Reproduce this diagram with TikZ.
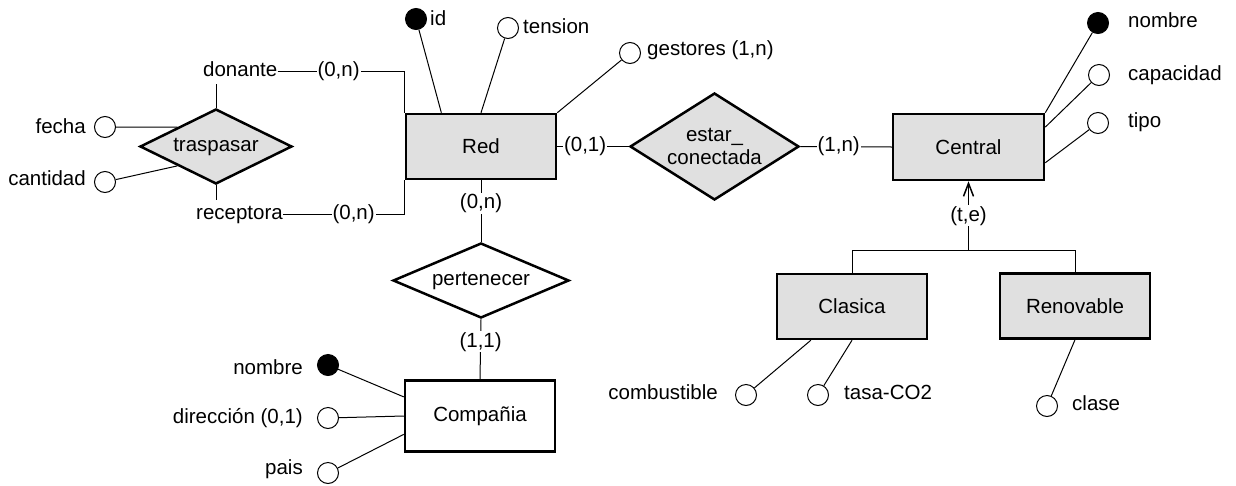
\documentclass[tikz,border=0pt]{standalone}
\usepackage{fontspec}
\setmainfont{Liberation Sans}
\usetikzlibrary{shapes.geometric,arrows.meta,calc}
\definecolor{boxgrey}{RGB}{224,224,224}

\begin{document}
\begin{tikzpicture}[x=1pt,y=-1pt,
  every node/.style={font=\fontsize{20.5}{23}\selectfont},
  txt/.style={inner sep=0pt, text height=14.8pt, text depth=4.3pt},
  entity/.style={draw, line width=2.5pt, minimum width=150pt, minimum height=65pt, inner sep=0pt},
  shaded/.style={fill=boxgrey},
  rel/.style={diamond, draw, line width=2.5pt, inner sep=0pt},
  attr/.style={circle, draw, line width=1pt, fill=white, minimum size=21pt, inner sep=0pt},
  keyattr/.style={attr, fill=black},
  link/.style={line width=1pt},
  card/.style={txt, fill=white, inner sep=1pt},
]
\useasboundingbox (0,0) rectangle (1236,485);

% entities
\node[entity, shaded] (red) at (481,146.5) {Red};
\node[entity, shaded, minimum width=151pt, minimum height=66pt] (central) at (968.5,147) {Central};
\node[entity, minimum height=71pt] (comp) at (480,416) {Compañia};
\node[entity, shaded] (clasica) at (852,306.5) {Clasica};
\node[entity, shaded] (renov) at (1075,306) {Renovable};

% relationships
\node[rel, shaded, aspect=2, minimum width=152pt, minimum height=75pt] (trasp) at (216,146.5) {traspasar};
\node[rel, shaded, aspect=1.58, minimum width=169pt, minimum height=107pt, align=center] (estar) at (714.5,146.5) {estar\_\\conectada};
\node[rel, fill=white, aspect=2.35, minimum width=176pt, minimum height=75pt] (pert) at (481,280.5) {pertenecer};

% role names of traspasar
\node[txt, anchor=west] (donante) at (203,71) {donante};
\node[txt, anchor=west] (receptora) at (196,214) {receptora};

% attributes of traspasar
\node[attr] (fechaC) at (105,127) {};
\node[txt, anchor=east] (fechaT) at (86,128) {fecha};
\node[attr] (cantC) at (105,182) {};
\node[txt, anchor=east] (cantT) at (86,180) {cantidad};

% attributes of Red
\node[keyattr] (idC) at (416,19) {};
\node[txt, anchor=west] (idT) at (430,20) {id};
\node[attr] (tensionC) at (508,28) {};
\node[txt, anchor=west] (tensionT) at (523,28) {tension};
\node[attr] (gestC) at (630,53) {};
\node[txt, anchor=west] (gestT) at (647,50) {gestores (1,n)};

% attributes of Central
\node[keyattr] (nombreC) at (1098,23) {};
\node[txt, anchor=west] (nombreT) at (1128,22) {nombre};
\node[attr] (capC) at (1099,75) {};
\node[txt, anchor=west] (capT) at (1128,75) {capacidad};
\node[attr] (tipoC) at (1098,123) {};
\node[txt, anchor=west] (tipoT) at (1128,122) {tipo};

% attributes of Compañia
\node[keyattr] (nomC2) at (328,365) {};
\node[txt, anchor=east] (nomT2) at (303,369) {nombre};
\node[attr] (dirC) at (328,418) {};
\node[txt, anchor=east] (dirT) at (303,418) {dirección (0,1)};
\node[attr] (paisC) at (328,473) {};
\node[txt, anchor=east] (paisT) at (303,469) {pais};

% attributes of the subclasses
\node[attr] (combC) at (746,395) {};
\node[txt, anchor=east] (combT) at (718,394) {combustible};
\node[attr] (tasaC) at (818,395) {};
\node[txt, anchor=west] (tasaT) at (844,394) {tasa-CO2};
\node[attr] (claseC) at (1047,406) {};
\node[txt, anchor=west] (claseT) at (1072,405) {clase};

% traspasar
\draw[link] (fechaC) -- ($(trasp.west)!0.5!(trasp.north)$);
\draw[link] (cantC) -- ($(trasp.west)!0.5!(trasp.south)$);
\draw[link, shorten >=3pt] (trasp.north) -- (trasp.north |- donante.south);
\draw[link, shorten >=4pt] (trasp.south) -- (trasp.south |- receptora.north);
\draw[link] (donante.east) -- node[card, pos=0.48] (cd) {(0,n)} (donante.east -| red.north west) -- (red.north west);
\draw[link] (receptora.east) -- node[card, pos=0.58] (cr) {(0,n)} (receptora.east -| red.south west) -- (red.south west);

% Red
\draw[link] (idC) -- ($(red.north west)!0.24!(red.north east)$);
\draw[link] (tensionC) -- (red.north);
\draw[link] (gestC) -- (red.north east);
\draw[link] (red.east) -- node[card, pos=0.39] (c01) {(0,1)} (estar.west);
\draw[link] (estar.east) -- node[card, pos=0.42] (c1n) {(1,n)} (central.west);
\draw[link] (red.south) -- node[card, pos=0.375] (c0n) {(0,n)} (pert.north);
\draw[link] (pert.south) -- node[card, pos=0.375] (c11) {(1,1)} (comp.north);

% Central
\draw[link] (nombreC) -- (central.north east);
\draw[link] (capC) -- ($(central.north east)!0.21!(central.south east)$);
\draw[link] (tipoC) -- ($(central.north east)!0.73!(central.south east)$);

% Compañia
\draw[link] (nomC2) -- ($(comp.north west)!0.24!(comp.south west)$);
\draw[link] (dirC) -- (comp.west);
\draw[link] (paisC) -- ($(comp.north west)!0.75!(comp.south west)$);

% generalisation of Central
\path (central.south) ++(0,69) coordinate (isa);
\draw[line width=1.5pt, -{Straight Barb[length=13pt,width=10pt]}] (isa) -- node[card, pos=0.5] (cte) {(t,e)} (central.south);
\draw[link] (clasica.north) |- (isa) -| (renov.north);

% subclasses
\draw[link] (combC) -- ($(clasica.south west)!0.23!(clasica.south east)$);
\draw[link] (tasaC) -- (clasica.south);
\draw[link] (claseC) -- (renov.south);
\end{tikzpicture}
\end{document}
